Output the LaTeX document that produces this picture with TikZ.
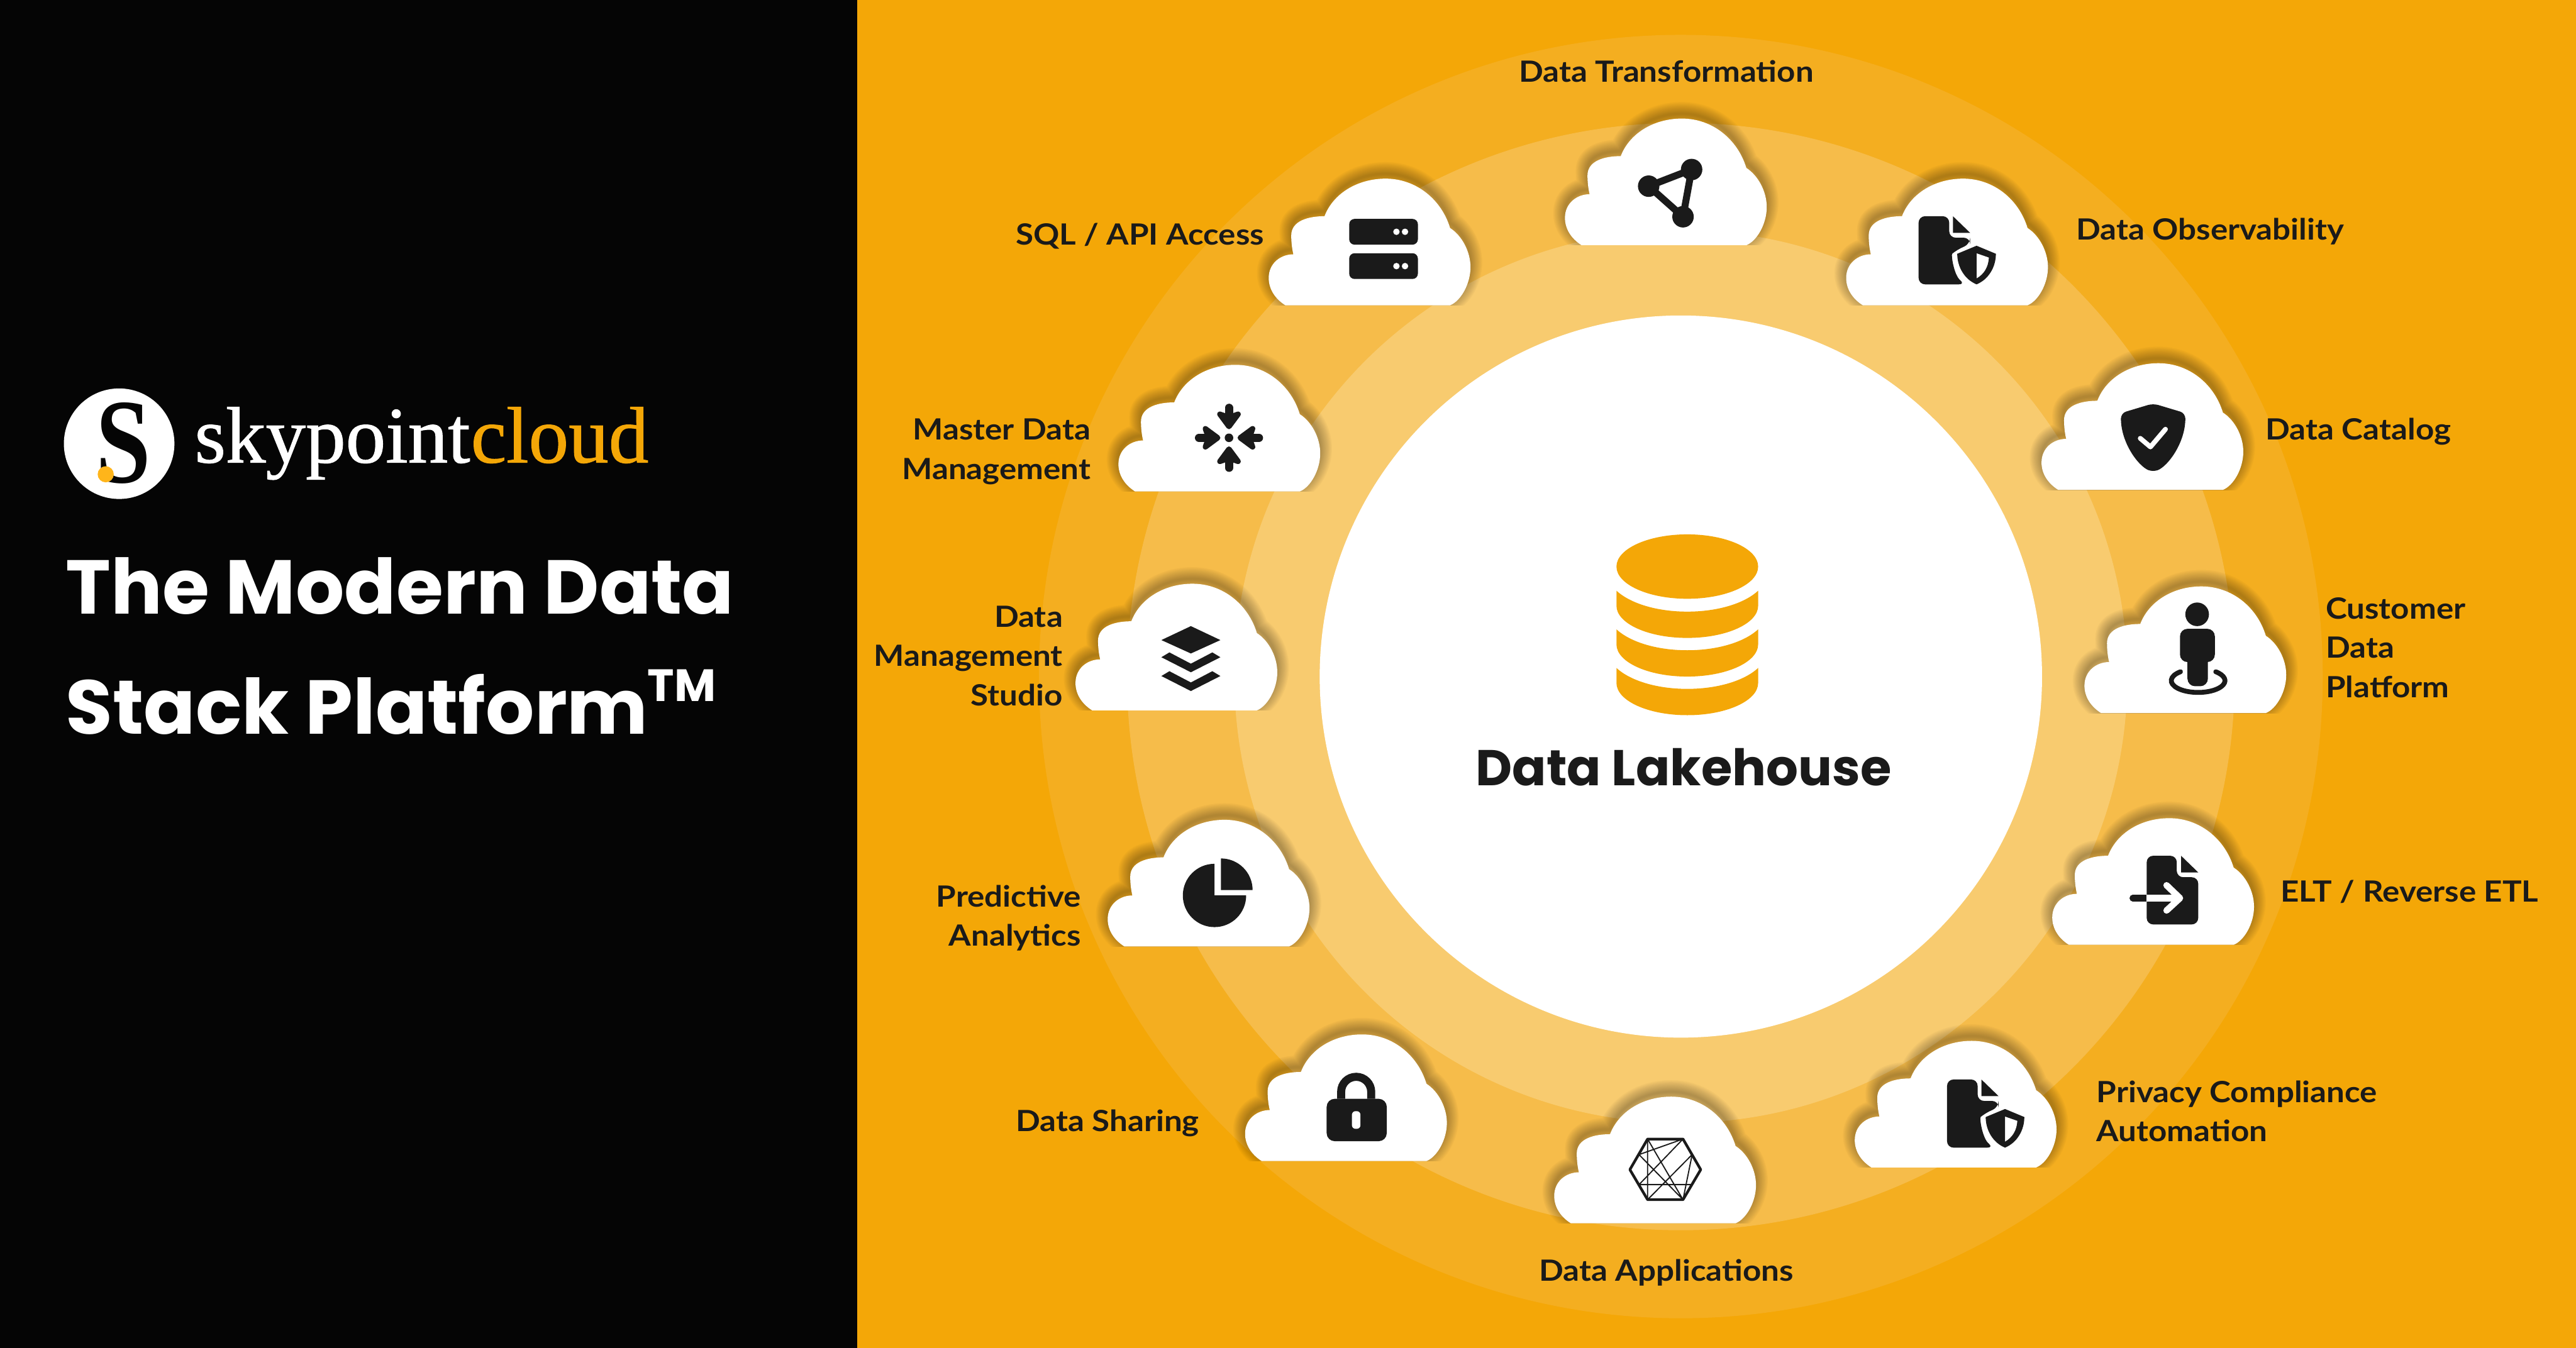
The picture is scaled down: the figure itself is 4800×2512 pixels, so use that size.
\documentclass[tikz,border=0pt]{standalone}
\usepackage{fontspec}
\usepackage{xcolor}
\newfontfamily\labelfont{Lato}[FakeStretch=1.1]
\newfontfamily\headfont{Poppins}
\newfontfamily\logofont{Liberation Serif}[FakeBold=0.9]
\newfontfamily\markfont{Liberation Serif Bold}[FakeStretch=0.82]
\definecolor{amber}{HTML}{F4A707}
\definecolor{dotamber}{HTML}{FFB51A}
\definecolor{ringa}{HTML}{F4AE20}
\definecolor{ringb}{HTML}{F6BC4A}
\definecolor{ringc}{HTML}{F8CB6F}
\definecolor{panel}{HTML}{050505}
\definecolor{ink}{HTML}{1A1A1A}
\def\cloudpath{(31,0) .. controls (12,-12) and (0,-30) .. (0,-51)
  .. controls (0,-78) and (22,-95) .. (46,-95)
  .. controls (43,-107) and (42,-120) .. (42,-130)
  .. controls (42,-158) and (75,-166) .. (104,-166)
  .. controls (120,-208) and (165,-236) .. (218,-236)
  .. controls (275,-236) and (322,-197) .. (338,-144)
  .. controls (360,-130) and (376,-100) .. (376,-71)
  .. controls (376,-40) and (358,-8) .. (338,0) -- cycle}
\tikzset{
  lbl/.style={font=\labelfont\bfseries\fontsize{15.5}{20.8}\selectfont,text=ink,inner sep=0pt},
  lblr/.style={lbl,align=right,anchor=base east},
  lbll/.style={lbl,align=left,anchor=base west},
  headline/.style={font=\headfont\bfseries\fontsize{40.5}{40.5}\selectfont,text=white,inner sep=0pt,anchor=base west},
  logotxt/.style={font=\logofont\fontsize{42.4}{42.4}\selectfont,inner sep=0pt,anchor=base west},
  cloudpic/.pic={
    \begin{scope}
      \clip (-80,0) rectangle (460,-300);
      \foreach \w in {4,8,...,44}
        \draw[black,opacity=0.028,line width=\w*0.1mm,line join=round,shift={(0,-9)}] \cloudpath;
    \end{scope}
    \fill[white] \cloudpath;
  },
  % file sheet with folded corner, origin at its top left
  sheetshield/.pic={
    \fill[ink,rounded corners=1.2mm] (0,0) -- (57,0) -- (57,40) -- (96,40) -- (96,52) -- (72,62)
      .. controls (60,72) and (66,110) .. (87,127) -- (0,127) -- cycle;
    \fill[ink] (64,0) -- (96,31) -- (64,31) -- cycle;
    \fill[ink,even odd rule] (108,55) -- (144,70) .. controls (144,95) and (130,118) .. (108,127)
      .. controls (86,118) and (72,95) .. (72,70) -- cycle
      (108,69) -- (131,77) .. controls (130,95) and (122,108) .. (108,116) -- cycle;
  },
  sheetarrow/.pic={
    \fill[ink,rounded corners=1.2mm] (0,0) -- (56,0) -- (56,40) -- (96,40) -- (96,128) -- (0,128) -- cycle;
    \fill[ink] (64,0) -- (96,31) -- (64,31) -- cycle;
    \draw[ink,line width=1.2mm,line cap=round] (-26,79) -- (0,79);
    \draw[white,line width=1.2mm] (0,79) -- (60,79);
    \draw[white,line width=1.2mm,line cap=round,line join=round] (37,55) -- (62,79) -- (37,102);
  },
  dbband/.pic={
    \fill[amber] (3012,1101) -- (3012,1129) arc[start angle=180,end angle=0,x radius=132,y radius=60]
      -- (3276,1101) .. controls (3250,1125) and (3200,1140) .. (3144,1140)
      .. controls (3088,1140) and (3038,1125) .. (3012,1101) -- cycle;
  }
}
\begin{document}
\begin{tikzpicture}[x=0.1mm,y=-0.1mm]
  \useasboundingbox (0,0) rectangle (4800,2512);
  % ---- background and rings ----
  \fill[amber] (0,0) rectangle (4800,2512);
  \fill[panel] (0,0) rectangle (1597,2512);
  \coordinate (hub) at (3132,1261);
  \fill[ringa] (hub) circle (1196);
  \fill[ringb] (hub) circle (1032);
  \fill[ringc] (hub) circle (832);
  \fill[white] (hub) circle (673);

  % ---- logo and title ----
  \fill[white] (222,827) circle (103);
  \node[font=\markfont\fontsize{64}{64}\selectfont,text=panel,inner sep=0pt] (logoS) at (230,826) {S};
  \fill[dotamber] (197,884) circle (15);
  \node[logotxt,text=white] (logoA) at (362,862) {skypoint};
  \node[logotxt,text=amber,anchor=base west] (logoB) at (logoA.base east) {cloud};
  \node[headline] (titleA) at (122,1144) {The Modern Data};
  \node[headline] (titleB) at (122,1368) {Stack Platform};
  \node[font=\headfont\bfseries\fontsize{24}{24}\selectfont,text=white,inner sep=0pt,anchor=base west] (titleTm) at (1206,1307) {TM};

  % ---- centre ----
  \fill[amber] (3144,1056) ellipse (132 and 60);
  \foreach \dy in {0,72,144}
    \pic at (0,\dy) {dbband};
  \node[font=\headfont\bfseries\fontsize{26.7}{26.7}\selectfont,text=ink,inner sep=0pt,anchor=base] (hubLbl) at (3137,1464) {Data Lakehouse};

  % ---- clouds ----
  \pic (cTrans) at (2916,457) {cloudpic};
  \pic (cSql) at (2364,569) {cloudpic};
  \pic (cObs) at (3440,569) {cloudpic};
  \pic (cMdm) at (2084,916) {cloudpic};
  \pic (cCat) at (3804,913) {cloudpic};
  \pic (cStudio) at (2004,1324) {cloudpic};
  \pic (cCdp) at (3884,1329) {cloudpic};
  \pic (cPred) at (2064,1764) {cloudpic};
  \pic (cElt) at (3824,1761) {cloudpic};
  \pic (cShare) at (2320,2164) {cloudpic};
  \pic (cPriv) at (3456,2176) {cloudpic};
  \pic (cApps) at (2896,2280) {cloudpic};

  % ---- icons ----
  % transformation
  \draw[ink,line width=1.3mm] (3152,316) -- (3072,347) -- (3136,404) -- cycle;
  \fill[ink] (3152,316) circle (20) (3072,347) circle (20) (3136,404) circle (20);
  % server
  \fill[ink,rounded corners=1mm] (2514,408) rectangle (2642,456);
  \fill[ink,rounded corners=1mm] (2514,472) rectangle (2642,520);
  \fill[white] (2602,432) circle (6) (2618,432) circle (6) (2602,496) circle (6) (2618,496) circle (6);
  % sheets
  \pic (iObs) at (3575,403) {sheetshield};
  \pic (iPriv) at (3628,2012) {sheetshield};
  \pic (iElt) at (4000,1595) {sheetarrow};
  % shield with check
  \fill[ink,rounded corners=1mm] (4012,752) -- (4072,770) .. controls (4072,825) and (4040,868) .. (4012,880)
    .. controls (3984,868) and (3952,825) .. (3952,770) -- cycle;
  \draw[white,line width=0.9mm,line cap=round,line join=round] (3988,817) -- (4007,833) -- (4035,800);
  % inward arrows
  \begin{scope}[shift={(2290,816)}]
    \fill[ink] (0,0) circle (8);
    \foreach \a in {0,90,180,270} {
      \begin{scope}[rotate=\a]
        \draw[ink,line width=1.5mm,line cap=round] (-56,0) -- (-34,0);
        \filldraw[ink,line width=1mm,line join=round] (-44,-17) -- (-21,0) -- (-44,17) -- (-38,0) -- cycle;
      \end{scope}
    }
  \end{scope}
  % layers
  \begin{scope}[shift={(2219,1193)}]
    \fill[ink] (-55,0) -- (0,-26) -- (55,0) -- (0,25) -- cycle;
    \foreach \dy in {0,35}
      \fill[ink] (-55,32+\dy) -- (-40,23+\dy) -- (0,44+\dy) -- (40,23+\dy) -- (55,32+\dy) -- (0,60+\dy) -- cycle;
  \end{scope}
  % person on a ring
  \fill[ink] (4094,1145) circle (22);
  \fill[ink,rounded corners=1.4mm] (4062,1172) rectangle (4127,1234);
  \fill[ink,rounded corners=1.4mm] (4076,1200) rectangle (4114,1279);
  \draw[ink,line width=0.9mm,line cap=round] (4063,1252) arc[start angle=229,end angle=-49,x radius=50,y radius=22];
  % pie
  \fill[ink] (2263,1669) -- (2263,1610) arc[start angle=270,end angle=0,radius=59] -- cycle;
  \fill[ink] (2275,1659) -- (2275,1600) arc[start angle=270,end angle=360,radius=59] -- cycle;
  % lock
  \draw[ink,line width=1.5mm] (2499,2048) -- (2499,2035) arc[start angle=180,end angle=360,radius=28] -- (2555,2048);
  \fill[ink,rounded corners=1.5mm] (2472,2048) rectangle (2584,2127);
  \fill[white,rounded corners=0.7mm] (2519,2071) rectangle (2535,2104);
  % hexagon mesh
  \draw[ink,line width=0.5mm,line join=round] (3037,2180) -- (3070,2123) -- (3136,2123) -- (3169,2180) -- (3136,2236) -- (3070,2236) -- cycle;
  \draw[ink,line width=0.22mm] (3070,2123) -- (3070,2236) (3054,2152) -- (3136,2123) (3070,2123) -- (3136,2236)
    (3054,2152) -- (3136,2236) (3054,2208) -- (3136,2123) (3070,2236) -- (3153,2152)
    (3153,2152) -- (3136,2236) (3054,2208) -- (3153,2208);

  % ---- labels ----
  \node[lbl,anchor=base] (lTrans) at (3105,153) {Data Transformation};
  \node[lbll] (lSql) at (1892,456) {SQL / API Access};
  \node[lbll] (lObs) at (3868,447) {Data Observability};
  \node[lblr] (lMdm) at (2033,893) {Master Data\\Management};
  \node[lbll] (lCat) at (4221,820) {Data Catalog};
  \node[lblr] (lStudio) at (1981,1315) {Data\\Management\\Studio};
  \node[lbll] (lCdp) at (4333,1300) {Customer\\Data\\Platform};
  \node[lblr] (lPred) at (2015,1763) {Predictive\\Analytics};
  \node[lbll] (lElt) at (4249,1681) {ELT / Reverse ETL};
  \node[lbll] (lShare) at (1892,2109) {Data Sharing};
  \node[lbll] (lPriv) at (3906,2128) {Privacy Compliance\\Automation};
  \node[lbl,anchor=base] (lApps) at (3105,2388) {Data Applications};
\end{tikzpicture}
\end{document}
